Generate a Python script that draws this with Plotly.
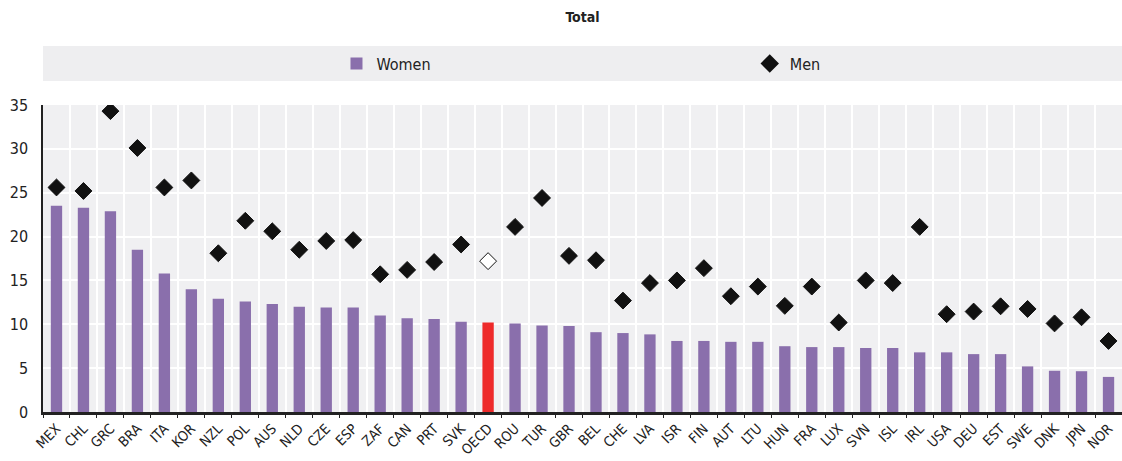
import plotly.graph_objects as go

countries = ["MEX", "CHL", "GRC", "BRA", "ITA", "KOR", "NZL", "POL", "AUS", "NLD",
             "CZE", "ESP", "ZAF", "CAN", "PRT", "SVK", "OECD", "ROU", "TUR", "GBR",
             "BEL", "CHE", "LVA", "ISR", "FIN", "AUT", "LTU", "HUN", "FRA", "LUX",
             "SVN", "ISL", "IRL", "USA", "DEU", "EST", "SWE", "DNK", "JPN", "NOR"]
women = [23.5, 23.3, 22.9, 18.5, 15.8, 14.0, 12.9, 12.6, 12.3, 12.0,
         11.9, 11.9, 11.0, 10.7, 10.6, 10.3, 10.2, 10.1, 9.85, 9.8,
         9.1, 9.0, 8.85, 8.1, 8.1, 8.0, 8.0, 7.5, 7.4, 7.4,
         7.3, 7.3, 6.8, 6.8, 6.6, 6.6, 5.2, 4.7, 4.65, 4.0]
men = [25.6, 25.2, 34.3, 30.1, 25.6, 26.4, 18.1, 21.8, 20.6, 18.5,
       19.5, 19.6, 15.7, 16.2, 17.1, 19.1, 17.2, 21.1, 24.4, 17.8,
       17.3, 12.7, 14.7, 15.0, 16.4, 13.2, 14.3, 12.1, 14.3, 10.2,
       15.0, 14.7, 21.1, 11.15, 11.45, 12.05, 11.75, 10.1, 10.8, 8.1]
y_ticks = [0, 5, 10, 15, 20, 25, 30, 35]

PURPLE = "#8A6FAC"
RED = "#EE2A2A"
FONT = "Liberation Sans Narrow, DejaVu Sans Condensed, Arial Narrow, Liberation Sans, Arial, sans-serif"

bar_colors = [RED if c == "OECD" else PURPLE for c in countries]
men_fill = ["white" if c == "OECD" else "#111111" for c in countries]

fig = go.Figure()
fig.add_trace(go.Bar(
    x=countries, y=women, name="Women",
    marker=dict(color=bar_colors, line=dict(width=0)),
    width=0.42, legend="legend",
))
fig.add_trace(go.Scatter(
    x=countries, y=men, name="Men", mode="markers",
    marker=dict(symbol="diamond", size=13, color=men_fill,
                line=dict(color="#111111", width=1)),
    legend="legend2",
))

# grey band behind the legend entries
fig.add_shape(type="rect", xref="paper", yref="paper",
              x0=0, x1=1, y0=1.078, y1=1.192,
              fillcolor="#EEEEF0", line=dict(width=0), layer="below")

legend_common = dict(orientation="h", yanchor="middle", y=1.135,
                     bgcolor="rgba(0,0,0,0)", xanchor="left",
                     font=dict(family=FONT, size=16, color="#222222"))

fig.update_layout(
    width=1122, height=461,
    margin=dict(l=43, r=0, t=105, b=49),
    paper_bgcolor="white",
    plot_bgcolor="#F0F0F2",
    font=dict(family=FONT, size=14, color="#222222"),
    title=dict(text="<b>Total</b>", x=0.5, xref="paper", xanchor="center",
               y=0.962, yanchor="middle",
               font=dict(family=FONT, size=14, color="#222222")),
    showlegend=True,
    legend=dict(x=0.272, itemwidth=30, **legend_common),
    legend2=dict(x=0.655, itemwidth=30, itemsizing="constant", **legend_common),
)
fig.update_xaxes(
    type="category", tickson="boundaries", automargin=False,
    showgrid=True, gridcolor="white", gridwidth=1.5,
    showline=True, linecolor="#222222", linewidth=3,
    ticks="outside", ticklen=3, tickcolor="#222222",
    tickangle=-45, tickfont=dict(family=FONT, size=14, color="#222222"),
    range=[-0.5, len(countries) - 0.5],
)
fig.update_yaxes(
    range=[0, 35], tickvals=y_ticks, automargin=False,
    showgrid=True, gridcolor="white", gridwidth=1.5,
    showline=True, linecolor="#222222", linewidth=1.5,
    zeroline=False, ticklabelstandoff=10,
    tickfont=dict(family=FONT, size=16, color="#222222"),
)

fig.write_html("out.html")
